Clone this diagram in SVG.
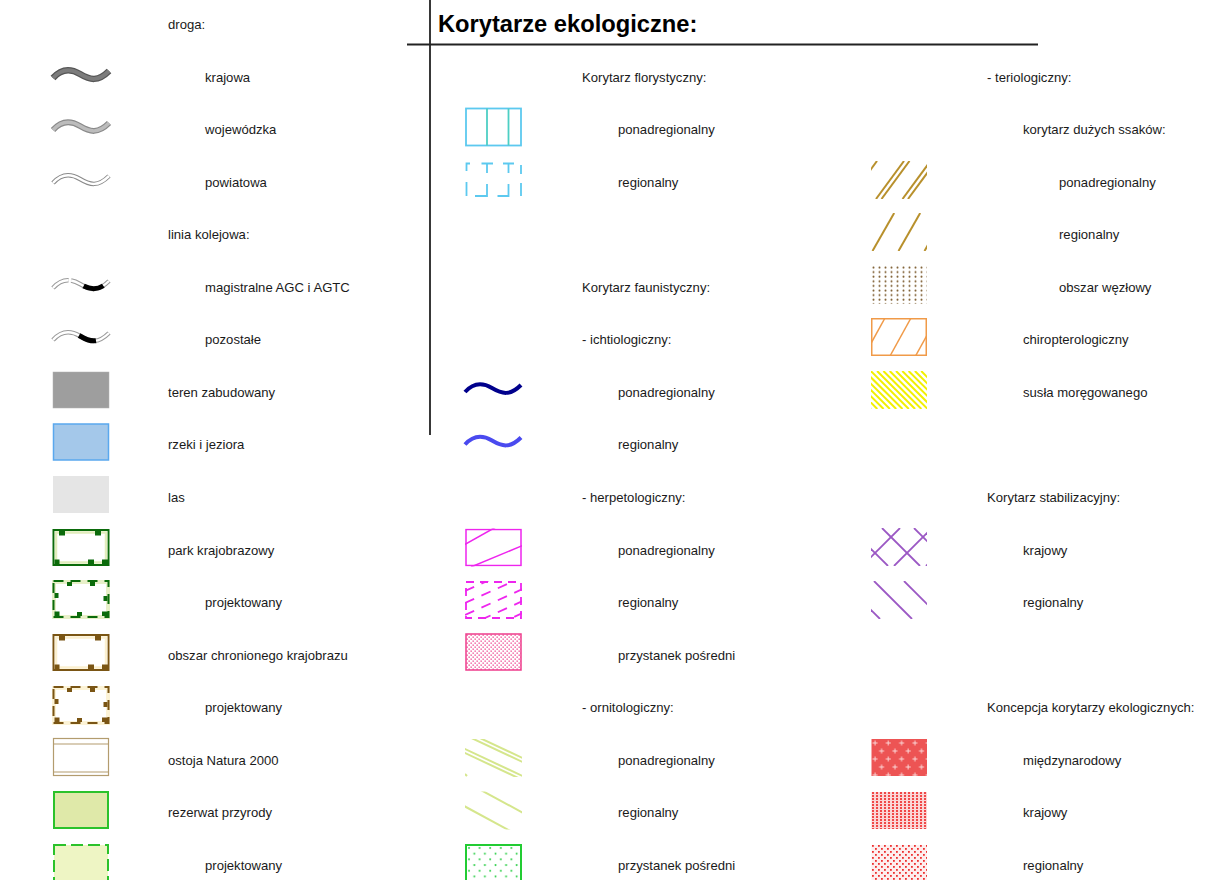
<svg xmlns="http://www.w3.org/2000/svg" width="1211" height="880" viewBox="0 0 1211 880">
<defs>
<style>
text{font-family:"Liberation Sans",Arial,sans-serif;font-size:13.1px;fill:#1a1a1a}
.title{font-size:23.7px;font-weight:bold;fill:#000}
.frame{stroke:#222;stroke-width:1.8;fill:none}
.rOut{fill:none;stroke:#9a9a9a;stroke-width:4.5}
.rIn{fill:none;stroke:#fff;stroke-width:2.4}
.rBlk{fill:none;stroke:#000;stroke-width:5}
.mk{fill:#0b6b0b}
.mkb{fill:#7a5514}
</style>
<path id="wave" d="M0,3 C8,-6 17,-7 27,-1 S45,7 56,-4" fill="none"/>
<pattern id="pDotsPink" width="4" height="4" patternUnits="userSpaceOnUse" x="466" y="634">
<rect width="4" height="4" fill="#fff"/>
<rect x="0.5" y="0.5" width="1.3" height="1.3" fill="#ee3d8a"/>
<rect x="2.5" y="2.5" width="1.3" height="1.3" fill="#ee3d8a"/>
</pattern>
<pattern id="pDotsGreen" width="10.6" height="11.4" patternUnits="userSpaceOnUse" x="467" y="846">
<rect width="10.6" height="11.4" fill="#fff"/>
<circle cx="2" cy="2" r="1" fill="#2fd04a"/>
<circle cx="7.3" cy="7.7" r="1" fill="#2fd04a"/>
</pattern>
<pattern id="pDotsBrown" width="6" height="4.6" patternUnits="userSpaceOnUse" x="872" y="266">
<circle cx="1.5" cy="1.5" r="1" fill="#7e5e32"/>
</pattern>
<pattern id="pCross" width="13.3" height="16" patternUnits="userSpaceOnUse" x="872" y="739">
<rect width="13.3" height="16" fill="#ed5454"/>
<path d="M3,1.5v5M0.5,4h5M9.6,9.5v5M7.1,12h5" stroke="#fbd6d6" stroke-width="1"/>
</pattern>
<pattern id="pStripe" width="4" height="3" patternUnits="userSpaceOnUse" x="872" y="792">
<rect width="4" height="3" fill="#fbd6d6"/>
<rect width="2" height="2" fill="#f04848"/>
</pattern>
<pattern id="pSparse" width="6" height="6" patternUnits="userSpaceOnUse" x="872" y="845">
<rect width="6" height="6" fill="#fdeeee"/>
<rect width="1.8" height="1.8" fill="#ee3030"/>
<rect x="3" y="3" width="1.8" height="1.8" fill="#ee3030"/>
</pattern>
</defs>

<rect width="1211" height="880" fill="#fff"/>

<g id="frame">
<line class="frame" x1="430" y1="0" x2="430" y2="435"/>
<line class="frame" x1="407" y1="44.5" x2="1038" y2="44.5"/>
<text class="title" x="438" y="32">Korytarze ekologiczne:</text>
</g>

<!-- LEFT COLUMN -->
<g id="droga"><text x="168" y="29">droga:</text></g>
<g id="krajowa">
<use href="#wave" x="53" y="75" stroke="#555" stroke-width="6.5"/>
<use href="#wave" x="53" y="75" stroke="#7c7c7c" stroke-width="4"/>
<text x="205" y="82">krajowa</text>
</g>
<g id="wojewodzka">
<use href="#wave" x="53" y="127" stroke="#8a8a8a" stroke-width="6"/>
<use href="#wave" x="53" y="127" stroke="#bcbcbc" stroke-width="3.5"/>
<text x="205" y="134">wojewódzka</text>
</g>
<g id="powiatowa">
<use href="#wave" x="53" y="180" stroke="#8a8a8a" stroke-width="4.5"/>
<use href="#wave" x="53" y="180" stroke="#fff" stroke-width="2.5"/>
<text x="205" y="187">powiatowa</text>
</g>
<g id="linia"><text x="168" y="239">linia kolejowa:</text></g>
<g id="magistralne">
<use href="#wave" x="53" y="285" class="rOut" stroke-dasharray="18 2.5 100" stroke="#aaa"/>
<use href="#wave" x="53" y="285" class="rIn" stroke-dasharray="18 2.5 100"/>
<use href="#wave" x="53" y="285" class="rBlk" stroke-dasharray="0 34 21 100"/>
<text x="205" y="292">magistralne AGC i AGTC</text>
</g>
<g id="pozostale">
<use href="#wave" x="53" y="337" class="rOut"/>
<use href="#wave" x="53" y="337" class="rIn"/>
<use href="#wave" x="53" y="337" class="rBlk" stroke-dasharray="0 29 18 100"/>
<text x="205" y="344">pozostałe</text>
</g>
<g id="teren">
<rect x="53" y="372" width="56" height="36" fill="#9e9e9e" stroke="#b0b0b0" stroke-width="0.5"/>
<text x="168" y="397">teren zabudowany</text>
</g>
<g id="rzeki">
<rect x="53.5" y="424" width="55" height="36" fill="#a4c8ea" stroke="#5aa8ee" stroke-width="1.5"/>
<text x="168" y="449">rzeki i jeziora</text>
</g>
<g id="las">
<rect x="53" y="476" width="56" height="37" fill="#e5e5e5"/>
<text x="168" y="502">las</text>
</g>
<g id="park">
<rect x="53.5" y="530" width="55" height="35" fill="#fff" stroke="#0b6b0b" stroke-width="2"/>
<rect x="56" y="532.5" width="50" height="30" fill="none" stroke="#e2edbd" stroke-width="2.5"/>
<rect class="mk" x="59" y="531" width="6" height="4.5"/>
<rect class="mk" x="95" y="531" width="6" height="4.5"/>
<rect class="mk" x="54.5" y="559.5" width="5" height="4.5"/>
<rect class="mk" x="88" y="559.5" width="6" height="4.5"/>
<rect class="mk" x="102" y="559.5" width="6" height="4.5"/>
<text x="168" y="555">park krajobrazowy</text>
</g>
<g id="park-proj">
<rect x="54" y="582" width="54" height="35" fill="#fff" stroke="#e8f0c8" stroke-width="4"/>
<rect x="53.5" y="581" width="55" height="36" fill="none" stroke="#0b6b0b" stroke-width="2" stroke-dasharray="10 7"/>
<rect class="mk" x="67" y="582" width="5" height="4"/>
<rect class="mk" x="90" y="582" width="5" height="4"/>
<rect class="mk" x="54.5" y="593" width="4" height="5"/>
<rect class="mk" x="103.5" y="596" width="4" height="5"/>
<rect class="mk" x="54.5" y="611.5" width="5" height="4.5"/>
<rect class="mk" x="77" y="612" width="5" height="4"/>
<rect class="mk" x="102" y="611.5" width="6" height="4.5"/>
<text x="205" y="607">projektowany</text>
</g>
<g id="obszar">
<rect x="53.5" y="635" width="55" height="35" fill="#fff" stroke="#7a5514" stroke-width="2"/>
<rect x="56" y="637.5" width="50" height="30" fill="none" stroke="#fbf0d0" stroke-width="2.5"/>
<rect class="mkb" x="59" y="636" width="6" height="4.5"/>
<rect class="mkb" x="95" y="636" width="6" height="4.5"/>
<rect class="mkb" x="54.5" y="664.5" width="5" height="4.5"/>
<rect class="mkb" x="88" y="664.5" width="6" height="4.5"/>
<rect class="mkb" x="102" y="664.5" width="6" height="4.5"/>
<text x="168" y="660">obszar chronionego krajobrazu</text>
</g>
<g id="obszar-proj">
<rect x="54" y="688" width="54" height="35" fill="#fff" stroke="#fcf3d6" stroke-width="4"/>
<rect x="53.5" y="687" width="55" height="36" fill="none" stroke="#7a5514" stroke-width="2" stroke-dasharray="10 7"/>
<rect class="mkb" x="67" y="688" width="5" height="4"/>
<rect class="mkb" x="90" y="688" width="5" height="4"/>
<rect class="mkb" x="54.5" y="699" width="4" height="5"/>
<rect class="mkb" x="103.5" y="702" width="4" height="5"/>
<rect class="mkb" x="54.5" y="717.5" width="5" height="4.5"/>
<rect class="mkb" x="77" y="718" width="5" height="4"/>
<rect class="mkb" x="102" y="717.5" width="6" height="4.5"/>
<text x="205" y="712">projektowany</text>
</g>
<g id="natura">
<rect x="53.5" y="738.5" width="55" height="37" fill="#fff" stroke="#b39c6e" stroke-width="1.2"/>
<line x1="53.5" y1="744" x2="108.5" y2="744" stroke="#b39c6e" stroke-width="1.2"/>
<line x1="53.5" y1="772" x2="108.5" y2="772" stroke="#b39c6e" stroke-width="1.2"/>
<text x="168" y="765">ostoja Natura 2000</text>
</g>
<g id="rezerwat">
<rect x="54" y="792" width="54" height="36" fill="#dfe9a9" stroke="#2bc22b" stroke-width="2"/>
<text x="168" y="817">rezerwat przyrody</text>
</g>
<g id="rezerwat-proj">
<rect x="54" y="845" width="54" height="36" fill="#eef5c4" stroke="#2bc22b" stroke-width="2" stroke-dasharray="12 5"/>
<text x="205" y="870">projektowany</text>
</g>

<!-- MIDDLE COLUMN -->
<g id="florystyczny"><text x="582" y="82">Korytarz florystyczny:</text></g>
<g id="flor-ponad">
<rect x="466" y="108.5" width="55" height="37" fill="none" stroke="#5cc9ef" stroke-width="1.8"/>
<line x1="487" y1="108.5" x2="487" y2="145.5" stroke="#4dcfc4" stroke-width="1.8"/>
<line x1="508.5" y1="108.5" x2="508.5" y2="145.5" stroke="#4dcfc4" stroke-width="1.8"/>
<text x="618" y="134">ponadregionalny</text>
</g>
<g id="flor-reg">
<path d="M470,163.5H466.5V171M481.5,163.5H493M487,163.5V173M503,163.5H514M508.5,163.5V173M521,165V174M466.5,182V196M487,184V196H475M508.5,184V196H497.5M521,183V196" fill="none" stroke="#5cc9ef" stroke-width="1.8"/>
<text x="618" y="187">regionalny</text>
</g>
<g id="faunistyczny"><text x="582" y="292">Korytarz faunistyczny:</text></g>
<g id="ichtio"><text x="582" y="344">- ichtiologiczny:</text></g>
<g id="ichtio-ponad">
<use href="#wave" x="465" y="389" stroke="#00008c" stroke-width="4"/>
<text x="618" y="397">ponadregionalny</text>
</g>
<g id="ichtio-reg">
<use href="#wave" x="465" y="441.5" stroke="#4a4aef" stroke-width="4"/>
<text x="618" y="449">regionalny</text>
</g>
<g id="herpeto"><text x="582" y="502">- herpetologiczny:</text></g>
<g id="herp-ponad">
<svg x="465" y="528.5" width="57" height="38">
<rect x="1" y="1" width="55" height="36" fill="none" stroke="#ee25ee" stroke-width="1.5"/>
<line x1="-2" y1="17" x2="30" y2="-1" stroke="#ee25ee" stroke-width="1.5"/>
<line x1="6" y1="38.5" x2="60" y2="16" stroke="#ee25ee" stroke-width="1.5"/>
</svg>
<text x="618" y="555">ponadregionalny</text>
</g>
<g id="herp-reg">
<svg x="465" y="581" width="57" height="38">
<rect x="1" y="1" width="55" height="36" fill="none" stroke="#ee25ee" stroke-width="1.8" stroke-dasharray="8 6"/>
<g stroke="#ee25ee" stroke-width="1.8" stroke-dasharray="10 8">
<line x1="0" y1="10" x2="60" y2="-17"/>
<line x1="0" y1="22" x2="60" y2="-5"/>
<line x1="0" y1="34" x2="60" y2="7"/>
<line x1="0" y1="46" x2="60" y2="19"/>
<line x1="0" y1="58" x2="60" y2="31"/>
</g>
</svg>
<text x="618" y="607">regionalny</text>
</g>
<g id="herp-przyst">
<rect x="466" y="634" width="55" height="36" fill="url(#pDotsPink)" stroke="#ee3c8c" stroke-width="1.5"/>
<text x="618" y="660">przystanek pośredni</text>
</g>
<g id="ornito"><text x="582" y="712">- ornitologiczny:</text></g>
<g id="orn-ponad">
<svg x="465" y="739" width="57" height="38">
<g stroke="#d5e68c" stroke-width="2">
<line x1="-5" y1="-10.35" x2="62" y2="21.1"/>
<line x1="-5" y1="-6.35" x2="62" y2="25.1"/>
<line x1="-5" y1="7.65" x2="62" y2="39.1"/>
<line x1="-5" y1="11.65" x2="62" y2="43.1"/>
<line x1="0" y1="35" x2="2" y2="37"/>
</g>
</svg>
<text x="618" y="765">ponadregionalny</text>
</g>
<g id="orn-reg">
<svg x="465" y="791.5" width="57" height="38">
<g stroke="#d5e68c" stroke-width="2">
<line x1="-5" y1="12.3" x2="62" y2="48.5"/>
<line x1="-5" y1="-12.7" x2="62" y2="23.5"/>
</g>
</svg>
<text x="618" y="817">regionalny</text>
</g>
<g id="orn-przyst">
<rect x="466" y="845" width="55" height="36" fill="url(#pDotsGreen)" stroke="#22cc33" stroke-width="2"/>
<text x="618" y="870">przystanek pośredni</text>
</g>

<!-- RIGHT COLUMN -->
<g id="terio"><text x="987" y="82">- teriologiczny:</text></g>
<g id="ssaki"><text x="1023" y="134">korytarz dużych ssaków:</text></g>
<g id="terio-ponad">
<svg x="871" y="161" width="56" height="38">
<g stroke="#b8902c" stroke-width="2">
<line x1="-22" y1="38" x2="6" y2="0"/>
<line x1="5" y1="38" x2="33" y2="0"/>
<line x1="10.5" y1="38" x2="38.5" y2="0"/>
<line x1="31.5" y1="38" x2="59.5" y2="0"/>
<line x1="37" y1="38" x2="65" y2="0"/>
</g>
</svg>
<text x="1059" y="187">ponadregionalny</text>
</g>
<g id="terio-reg">
<svg x="871" y="213" width="56" height="38">
<g stroke="#b8902c" stroke-width="2">
<line x1="1.5" y1="38" x2="23.2" y2="0"/>
<line x1="27.5" y1="38" x2="49.2" y2="0"/>
<line x1="53.5" y1="38" x2="75.2" y2="0"/>
</g>
</svg>
<text x="1059" y="239">regionalny</text>
</g>
<g id="wezlowy">
<rect x="871" y="266" width="56" height="38" fill="url(#pDotsBrown)"/>
<text x="1059" y="292">obszar węzłowy</text>
</g>
<g id="chiroptero">
<svg x="871" y="318" width="56" height="38">
<rect x="0.75" y="0.75" width="54.5" height="36.5" fill="none" stroke="#f09a48" stroke-width="1.5"/>
<g stroke="#f09a48" stroke-width="1.5">
<line x1="-7" y1="38" x2="14" y2="0"/>
<line x1="19" y1="38" x2="40" y2="0"/>
<line x1="44.5" y1="38" x2="65.5" y2="0"/>
</g>
</svg>
<text x="1023" y="344">chiropterologiczny</text>
</g>
<g id="susel">
<svg x="871" y="371" width="56" height="38">
<g stroke="#f2f000" stroke-width="2">
<line x1="-38" y1="0" x2="0" y2="38"/>
<line x1="-31.7" y1="0" x2="6.3" y2="38"/>
<line x1="-25.4" y1="0" x2="12.6" y2="38"/>
<line x1="-19.1" y1="0" x2="18.9" y2="38"/>
<line x1="-12.8" y1="0" x2="25.2" y2="38"/>
<line x1="-6.5" y1="0" x2="31.5" y2="38"/>
<line x1="-0.2" y1="0" x2="37.8" y2="38"/>
<line x1="6.1" y1="0" x2="44.1" y2="38"/>
<line x1="12.4" y1="0" x2="50.4" y2="38"/>
<line x1="18.7" y1="0" x2="56.7" y2="38"/>
<line x1="25" y1="0" x2="63" y2="38"/>
<line x1="31.3" y1="0" x2="69.3" y2="38"/>
<line x1="37.6" y1="0" x2="75.6" y2="38"/>
<line x1="43.9" y1="0" x2="81.9" y2="38"/>
<line x1="50.2" y1="0" x2="88.2" y2="38"/>
</g>
</svg>
<text x="1023" y="397">susła moręgowanego</text>
</g>
<g id="stabil"><text x="987" y="502">Korytarz stabilizacyjny:</text></g>
<g id="stab-kraj">
<svg x="871" y="528" width="56" height="38">
<g stroke="#9b58c4" stroke-width="1.8">
<line x1="-21" y1="0" x2="17" y2="38"/>
<line x1="11" y1="0" x2="49" y2="38"/>
<line x1="43" y1="0" x2="81" y2="38"/>
<line x1="29" y1="0" x2="-9" y2="38"/>
<line x1="61" y1="0" x2="23" y2="38"/>
<line x1="93" y1="0" x2="55" y2="38"/>
</g>
</svg>
<text x="1023" y="555">krajowy</text>
</g>
<g id="stab-reg">
<svg x="871" y="581" width="56" height="38">
<g stroke="#9b58c4" stroke-width="1.8">
<line x1="-29" y1="0" x2="9" y2="38"/>
<line x1="3" y1="0" x2="41" y2="38"/>
<line x1="33" y1="0" x2="71" y2="38"/>
</g>
</svg>
<text x="1023" y="607">regionalny</text>
</g>
<g id="koncepcja"><text x="987" y="712">Koncepcja korytarzy ekologicznych:</text></g>
<g id="miedzynar">
<rect x="871.5" y="739" width="55.5" height="37" fill="url(#pCross)"/>
<text x="1023" y="765">międzynarodowy</text>
</g>
<g id="konc-kraj">
<rect x="871.5" y="792" width="55.5" height="37" fill="url(#pStripe)"/>
<text x="1023" y="817">krajowy</text>
</g>
<g id="konc-reg">
<rect x="871.5" y="845" width="55.5" height="37" fill="url(#pSparse)"/>
<text x="1023" y="870">regionalny</text>
</g>
</svg>
